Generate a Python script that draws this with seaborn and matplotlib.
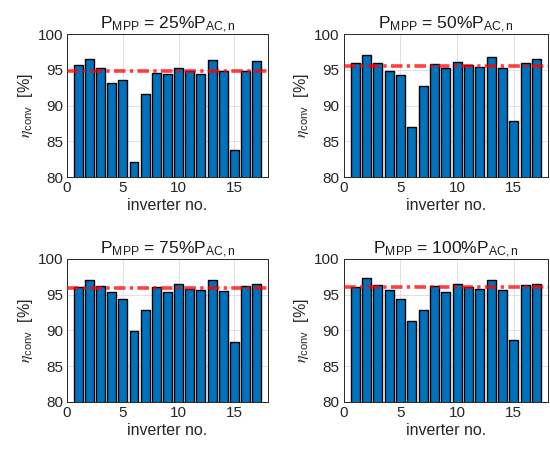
import matplotlib
matplotlib.use("Agg")
import matplotlib.pyplot as plt
import seaborn as sns
import pandas as pd

# inverter numbers and conversion efficiency (%) at four MPP power levels
inverters = list(range(1, 18))
eta_25 = [95.7, 96.5, 95.3, 93.2, 93.6, 82.1, 91.6, 94.6, 94.4, 95.3, 94.9, 94.4, 96.4, 94.9, 83.8, 94.9, 96.2]
eta_50 = [96.0, 97.1, 96.0, 94.9, 94.3, 87.0, 92.7, 95.8, 95.3, 96.1, 95.7, 95.4, 96.8, 95.3, 87.9, 96.0, 96.5]
eta_75 = [96.0, 97.1, 96.2, 95.4, 94.4, 89.9, 92.9, 96.0, 95.4, 96.5, 95.8, 95.7, 97.0, 95.5, 88.4, 96.2, 96.5]
eta_100 = [96.0, 97.3, 96.4, 95.6, 94.4, 91.3, 92.9, 96.2, 95.4, 96.5, 96.0, 95.8, 97.0, 95.6, 88.6, 96.4, 96.5]

# reference (red dash-dot) level per panel
ref_levels = [94.8, 95.5, 95.9, 96.0]
load_labels = ["25", "50", "75", "100"]

sns.set_style("whitegrid")
plt.rcParams["font.family"] = ["Liberation Sans", "DejaVu Sans"]
plt.rcParams["mathtext.fontset"] = "stix"

fig = plt.figure(figsize=(5.5, 4.51), dpi=100)
positions = [
    [0.122, 0.6075, 0.365, 0.317],
    [0.625, 0.6075, 0.371, 0.317],
    [0.122, 0.109, 0.365, 0.317],
    [0.625, 0.109, 0.371, 0.317],
]

all_eta = [eta_25, eta_50, eta_75, eta_100]

for pos, eta, ref, lab in zip(positions, all_eta, ref_levels, load_labels):
    ax = fig.add_axes(pos)
    df = pd.DataFrame({"inverter": inverters, "eta": eta})
    sns.barplot(data=df, x="inverter", y="eta", native_scale=True, color="#0072BD",
                saturation=1, edgecolor="black", linewidth=1.0, width=0.8, ax=ax)
    ax.axhline(ref, color="red", alpha=0.75, lw=2.6, linestyle=(0, (3.2, 1.2, 0.9, 1.2)), zorder=5)
    ax.set_xlim(0, 18)
    ax.set_ylim(80, 100)
    ax.set_xticks([0, 5, 10, 15])
    ax.set_yticks([80, 85, 90, 95, 100])
    ax.grid(True, color="#dcdcdc", lw=0.6)
    ax.set_axisbelow(True)
    for s in ax.spines.values():
        s.set_visible(True)
        s.set_color("#262626")
        s.set_linewidth(0.7)
    ax.tick_params(direction="in", length=3, width=0.6, labelsize=11, colors="#262626", pad=3)
    ax.set_title(r"P$_{\mathregular{MPP}}$ = " + lab + r"%P$_{\mathregular{AC,n}}$",
                 fontsize=12.5, color="#1a1a1a", pad=4)
    ax.set_xlabel("inverter no.", fontsize=11.5, color="#262626", labelpad=2)
    ax.set_ylabel(r"$\eta_{\mathregular{conv}}$  [%]", fontsize=11.5, color="#262626", labelpad=2)

fig.savefig("out.png", dpi=100)
